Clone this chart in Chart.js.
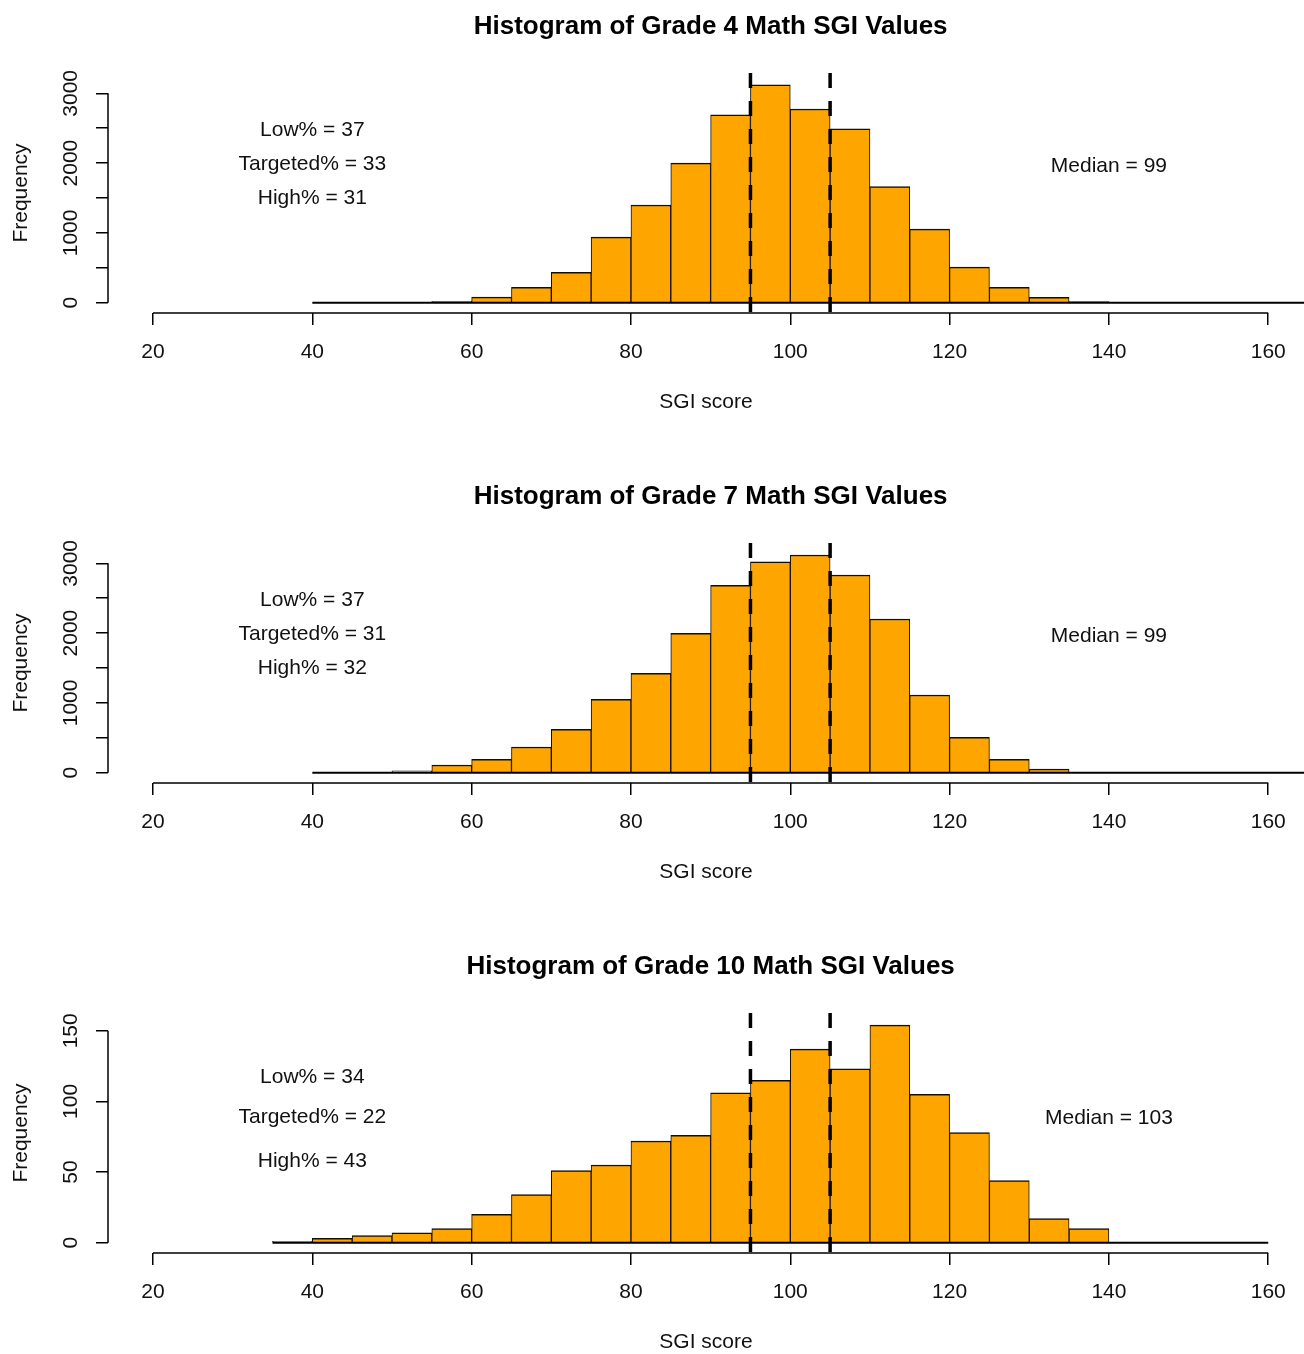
<!DOCTYPE html>
<html>
<head>
<meta charset="utf-8">
<title>Histogram of Math SGI Values</title>
<script src="https://cdn.jsdelivr.net/npm/chart.js@4.4.1/dist/chart.umd.min.js"></script>
<style>
    html, body { margin: 0; padding: 0; background: #fff; overflow: hidden; }
    canvas { display: block; }
</style>
</head>
<body>
<canvas id="grado4" width="1304" height="470"></canvas>
<canvas id="grado7" width="1304" height="470"></canvas>
<canvas id="grado10" width="1304" height="470"></canvas>
<script>
// bin edges (5 points wide) and counts
const breaks4 = [40, 45, 50, 55, 60, 65, 70, 75, 80, 85, 90, 95, 100, 105, 110, 115, 120, 125, 130, 135, 140, 145, 150, 155, 160, 165];
const counts4 = [0, 0, 0, 20, 80, 220, 435, 940, 1400, 2000, 2690, 3120, 2775, 2490, 1665, 1055, 510, 220, 77, 15, 0, 0, 0, 0, 0];

const breaks7 = [40, 45, 50, 55, 60, 65, 70, 75, 80, 85, 90, 95, 100, 105, 110, 115, 120, 125, 130, 135, 140, 145, 150, 155, 160, 165];
const counts7 = [0, 0, 25, 110, 192, 368, 622, 1052, 1424, 1997, 2685, 3023, 3119, 2832, 2202, 1113, 507, 192, 53, 0, 0, 0, 0, 0, 0];

const breaks10 = [35, 40, 45, 50, 55, 60, 65, 70, 75, 80, 85, 90, 95, 100, 105, 110, 115, 120, 125, 130, 135, 140, 145, 150, 155, 160];
const counts10 = [1, 3, 5, 7, 10, 20, 34, 51, 55, 72, 76, 106, 115, 137, 123, 154, 105, 78, 44, 17, 10, 0, 0, 0, 0];

// cut scores (dashed lines)
const cutScores = [95, 105];

// axis ticks
const xTicks = [20, 40, 60, 80, 100, 120, 140, 160];
const yTicks4 = [0, 500, 1000, 1500, 2000, 2500, 3000];
const yLabels4 = [0, 1000, 2000, 3000];
const yTicks10 = [0, 50, 100, 150];
const yLabels10 = [0, 50, 100, 150];

// text in the plots
const notes4 = ['Low% = 37', 'Targeted% = 33', 'High% = 31'];
const notes7 = ['Low% = 37', 'Targeted% = 31', 'High% = 32'];
const notes10 = ['Low% = 34', 'Targeted% = 22', 'High% = 43'];
const median4 = 'Median = 99';
const median7 = 'Median = 99';
const median10 = 'Median = 103';

const fuente = '"Liberation Sans", Arial, sans-serif';
const tinta = '#111';

Chart.defaults.font.family = fuente;
Chart.defaults.font.size = 21;
Chart.defaults.color = tinta;

const dibujaPanel = function( idCanvas, titulo, breaks, counts, yTicks, yLabels, yLim, notas, mediana, pos )
{
    const barras = counts.map((c, i) => ({ x: (breaks[i] + breaks[i + 1]) / 2, y: c }));
    const base = [ { x: breaks[0], y: 0 }, { x: breaks[breaks.length - 1], y: 0 } ];

    const cortes = cutScores.map(v => ({
        type: 'line',
        data: [ { x: v, y: yLim[1] }, { x: v, y: yLim[0] } ],
        borderColor: '#000', borderWidth: 3.5, borderDash: [15, 13],
        pointRadius: 0, fill: false, order: 0
    }));

    // R style extras: detached axis lines, vertical y labels, title, notes
    const ejesR = {
        id: 'ejesR',
        afterDraw(chart) {
            const ctx = chart.ctx;
            const sx = chart.scales.x;
            const sy = chart.scales.y;
            const area = chart.chartArea;
            ctx.save();
            ctx.strokeStyle = '#000';
            ctx.lineWidth = 1.5;
            ctx.beginPath();
            ctx.moveTo(sx.getPixelForValue(xTicks[0]), area.bottom);
            ctx.lineTo(sx.getPixelForValue(xTicks[xTicks.length - 1]), area.bottom);
            ctx.moveTo(area.left, sy.getPixelForValue(yTicks[0]));
            ctx.lineTo(area.left, sy.getPixelForValue(yTicks[yTicks.length - 1]));
            ctx.stroke();

            ctx.fillStyle = tinta;
            ctx.textAlign = 'center';
            ctx.textBaseline = 'middle';
            ctx.font = '21px ' + fuente;
            yLabels.forEach(v => {
                ctx.save();
                ctx.translate(area.left - 37, sy.getPixelForValue(v));
                ctx.rotate(-Math.PI / 2);
                ctx.fillText(String(v), 0, 0);
                ctx.restore();
            });

            notas.forEach((t, i) => {
                ctx.fillText(t, sx.getPixelForValue(40), sy.getPixelForValue(pos.notasY[i]));
            });
            ctx.fillText(mediana, sx.getPixelForValue(140), sy.getPixelForValue(pos.medianaY));

            // title centred on R's plot region (14.4 .. 165.6)
            ctx.font = 'bold 26px ' + fuente;
            ctx.fillStyle = '#000';
            ctx.fillText(titulo, sx.getPixelForValue(90), 27);
            ctx.restore();
        }
    };

    const ctx = document.getElementById(idCanvas).getContext('2d');
    return new Chart(ctx, {
        type: 'bar',
        data: {
            datasets: [
                ...cortes,
                { type: 'line', data: base, borderColor: '#000', borderWidth: 2, pointRadius: 0, fill: false, order: 1 },
                { type: 'bar', data: barras, backgroundColor: '#FFA500', borderColor: '#140c00',
                  borderWidth: { top: 1.5, left: 1, right: 1, bottom: 0 },
                  barPercentage: 1, categoryPercentage: 1, order: 2 }
            ]
        },
        options: {
            responsive: false,
            animation: false,
            devicePixelRatio: 1,
            events: [],
            layout: { padding: { top: 73, left: 0, right: 0, bottom: 0 } },
            plugins: { legend: { display: false }, tooltip: { enabled: false }, title: { display: false } },
            scales: {
                x: {
                    type: 'linear', min: 14.35, max: 164.49, offset: false,
                    afterBuildTicks: s => { s.ticks = xTicks.map(v => ({ value: v })); },
                    afterFit: s => { s.height = 157; },
                    grid: { offset: false, drawOnChartArea: false, drawTicks: true, tickLength: 12, color: '#000', lineWidth: 1.5 },
                    border: { display: false },
                    ticks: { padding: 15, maxRotation: 0, color: tinta, font: { size: 21 } },
                    title: { display: true, text: 'SGI score', color: tinta, font: { size: 21 }, padding: { top: 0, bottom: 55 } }
                },
                y: {
                    type: 'linear', min: yLim[0], max: yLim[1],
                    afterBuildTicks: s => { s.ticks = yTicks.map(v => ({ value: v })); },
                    afterFit: s => { s.width = 108; },
                    grid: { drawOnChartArea: false, drawTicks: true, tickLength: 12, color: '#000', lineWidth: 1.5 },
                    border: { display: false },
                    ticks: { display: false },
                    title: { display: true, text: 'Frequency', color: tinta, font: { size: 21 }, padding: { top: 9, bottom: 0 } }
                }
            }
        },
        plugins: [ejesR]
    });
};

dibujaPanel('grado4', 'Histogram of Grade 4 Math SGI Values', breaks4, counts4, yTicks4, yLabels4,
    [-147.6, 3291], notes4, median4, { notasY: [2475, 1990, 1500], medianaY: 1960 });
dibujaPanel('grado7', 'Histogram of Grade 7 Math SGI Values', breaks7, counts7, yTicks4, yLabels4,
    [-147.6, 3291], notes7, median7, { notasY: [2475, 1990, 1500], medianaY: 1960 });
dibujaPanel('grado10', 'Histogram of Grade 10 Math SGI Values', breaks10, counts10, yTicks10, yLabels10,
    [-7.3, 162.6], notes10, median10, { notasY: [117, 89, 58], medianaY: 88 });
</script>
</body>
</html>
